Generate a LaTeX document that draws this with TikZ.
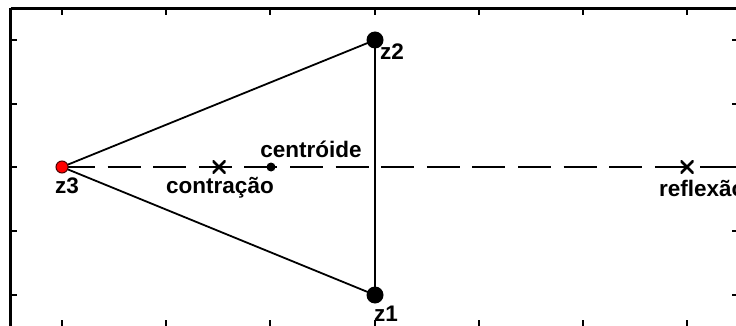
\documentclass[tikz,border=0pt]{standalone}
\usepackage{fontspec}
\setmainfont{Liberation Sans}
\begin{document}
\begin{tikzpicture}[x=1pt,y=-1pt,
  frame/.style={line width=2.5pt},
  tick/.style={line width=2pt},
  edge/.style={line width=1.8pt},
  dashline/.style={line width=2pt, dash pattern=on 33pt off 12.6pt},
  bigdot/.style={circle, fill=black, inner sep=0pt, minimum size=17pt},
  smalldot/.style={circle, fill=black, inner sep=0pt, minimum size=9pt},
  reddot/.style={circle, fill=red, draw=black!70!red, line width=1pt, inner sep=0pt, minimum size=12pt},
  cross/.style={inner sep=0pt, minimum size=13pt, path picture={\draw[line width=2.6pt] (path picture bounding box.south west) -- (path picture bounding box.north east) (path picture bounding box.north west) -- (path picture bounding box.south east);}},
  lbl/.style={font=\fontsize{22.5}{22.5}\selectfont\bfseries, inner sep=0pt}]
\useasboundingbox (0,0) rectangle (736,326);
% frame
\draw[frame] (10.5,8.5) -- (740,8.5) (10.5,8.5) -- (10.5,330);
\draw[frame] (738,8.5) -- (738,330) (10.5,327.5) -- (740,327.5);
\foreach \x in {62,166,270,375,479,583,687} {
  \draw[tick] (\x,8.5) -- (\x,15.5);
  \draw[tick] (\x,327) -- (\x,320);
}
\foreach \y in {40,104,167,231,295} {
  \draw[tick] (10.5,\y) -- (17,\y);
  \draw[tick] (738,\y) -- (732,\y);
}
% points
\coordinate (z1) at (375,295);
\coordinate (z2) at (375,40);
\coordinate (z3) at (62,167);
\coordinate (cen) at (271,167);
\coordinate (con) at (219,167);
\coordinate (ref) at (687,167);
\coordinate (endr) at (740,167);
% dashed line
\draw[dashline] (z3) -- (endr);
% triangle
\draw[edge] (z3) -- (z2) -- (z1) -- cycle;
% markers
\node[bigdot] (n1) at (z1) {};
\node[bigdot] (n2) at (z2) {};
\node[reddot] (n3) at (z3) {};
\node[smalldot] (nc) at (cen) {};
\node[cross] (ncon) at (con) {};
\node[cross] (nref) at (ref) {};
% labels
\node[lbl] (l3) at (67,186) {z3};
\node[lbl] (l2) at (392,52) {z2};
\node[lbl] (l1) at (386,314) {z1};
\node[lbl] (lc) at (311,149) {centróide};
\node[lbl] (lcon) at (220,188) {contração};
\node[lbl, anchor=west] (lref) at (659,188) {reflexão};
\end{tikzpicture}
\end{document}
